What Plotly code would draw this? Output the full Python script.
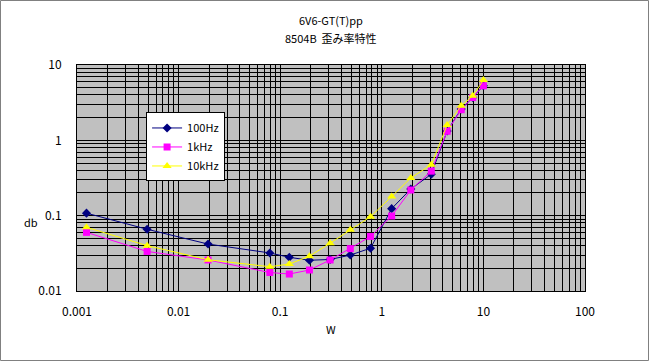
import plotly.graph_objects as go

watts = [0.00124, 0.0049, 0.0195, 0.079, 0.123, 0.194, 0.31, 0.49, 0.775, 1.25, 1.93, 3.07, 4.4, 6.05, 7.85, 10.0]
hz100 = [0.108, 0.066, 0.042, 0.032, 0.028, 0.0256, 0.0262, 0.030, 0.037, 0.124, 0.226, 0.355, 1.33, 2.6, 3.7, 5.3]
khz1 = [0.060, 0.0335, 0.0258, 0.0176, 0.0168, 0.019, 0.0258, 0.0365, 0.053, 0.099, 0.219, 0.39, 1.32, 2.55, 3.7, 5.3]
khz10 = [0.070, 0.040, 0.026, 0.021, 0.0228, 0.029, 0.043, 0.065, 0.097, 0.179, 0.317, 0.475, 1.6, 2.87, 3.9, 6.3]

x_ticks = [0.001, 0.01, 0.1, 1, 10, 100]
x_labels = ["0.001", "0.01", "0.1", "1", "10", "100"]
y_ticks = [0.01, 0.1, 1, 10]
y_labels = ["0.01", "0.1", "1", "10"]
title_lines = ["6V6-GT(T)pp", "8504B  歪み率特性"]

font = "Noto Sans CJK JP, DejaVu Sans, sans-serif"

fig = go.Figure()
fig.add_trace(go.Scatter(x=watts, y=hz100, name="100Hz", mode="lines+markers",
                         line=dict(color="#000080", width=1),
                         marker=dict(symbol="diamond", size=7, color="#000080")))
fig.add_trace(go.Scatter(x=watts, y=khz1, name="1kHz", mode="lines+markers",
                         line=dict(color="#FF00FF", width=1),
                         marker=dict(symbol="square", size=7, color="#FF00FF")))
fig.add_trace(go.Scatter(x=watts, y=khz10, name="10kHz", mode="lines+markers",
                         line=dict(color="#FFFF00", width=1),
                         marker=dict(symbol="triangle-up", size=8, color="#FFFF00")))

def minor_vals(lo, hi):
    vals = []
    for e in range(lo, hi):
        for m in range(2, 10):
            vals.append(m * 10 ** e)
    return vals

fig.update_layout(
    width=649, height=361,
    margin=dict(l=77, r=64, t=65, b=70),
    paper_bgcolor="white", plot_bgcolor="#C0C0C0",
    font=dict(family=font, size=11, color="black"),
    showlegend=True,
    legend=dict(x=0.136, y=0.79, xanchor="left", yanchor="top",
                bgcolor="white", bordercolor="black", borderwidth=1,
                font=dict(size=11), itemwidth=30, tracegroupgap=0),
    annotations=[
        dict(text=title_lines[0], x=0.5, y=1.0, xref="paper", yref="paper",
             xanchor="center", yanchor="bottom", yshift=35, showarrow=False, font=dict(size=11)),
        dict(text=title_lines[1], x=0.5, y=1.0, xref="paper", yref="paper",
             xanchor="center", yanchor="bottom", yshift=17, showarrow=False, font=dict(size=11)),
        dict(text="db", x=0, y=0.306, xref="paper", yref="paper", xanchor="center",
             yanchor="middle", xshift=-46, showarrow=False, font=dict(size=11)),
        dict(text="W", x=0.5, y=0, xref="paper", yref="paper", xanchor="center",
             yanchor="middle", yshift=-38, showarrow=False, font=dict(size=11)),
    ],
    shapes=[dict(type="rect", xref="paper", yref="paper",
                 x0=-76.5/508, x1=1 + 63.5/508, y0=-69.5/226, y1=1 + 64.5/226,
                 line=dict(color="#808080", width=1))],
)
fig.update_xaxes(type="log", range=[-3, 2], tickvals=x_ticks, ticktext=x_labels,
                 showgrid=True, gridcolor="black", gridwidth=1,
                 minor=dict(showgrid=True, gridcolor="black", gridwidth=1,
                            tickvals=minor_vals(-3, 2), ticks=""),
                 showline=True, linecolor="black", mirror=True, zeroline=False,
                 ticks="", tickfont=dict(size=12), ticklabelstandoff=10)
fig.update_yaxes(type="log", range=[-2, 1], tickvals=y_ticks, ticktext=y_labels,
                 showgrid=True, gridcolor="black", gridwidth=1,
                 minor=dict(showgrid=True, gridcolor="black", gridwidth=1,
                            tickvals=minor_vals(-2, 1), ticks=""),
                 showline=True, linecolor="black", mirror=True, zeroline=False,
                 ticks="", tickfont=dict(size=12), ticklabelstandoff=12)

fig.write_html("out.html", config={"displayModeBar": False},
               post_script="document.body.style.margin='0px';")
